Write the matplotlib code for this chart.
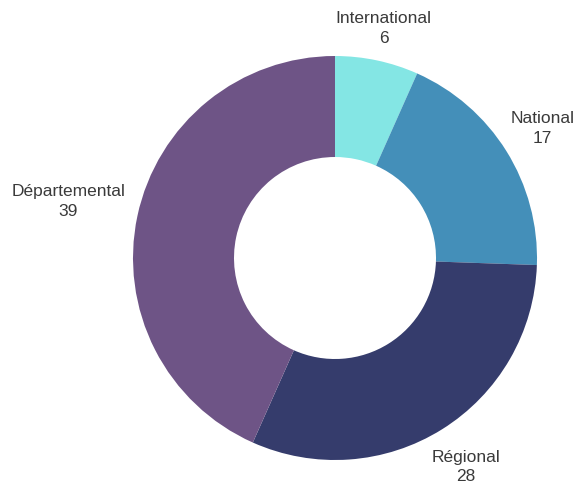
import numpy as np
import matplotlib.pyplot as plt

# données
categories = ["International", "National", "Régional", "Départemental"]
values = [6, 17, 28, 39]

colors = ["#84E6E4", "#448FB9", "#353C6C", "#6E5486"]
label_dist = [1.16, 1.21, 1.22, 1.35]

plt.rcParams['font.family'] = ['Liberation Sans', 'DejaVu Sans']

fig = plt.figure(figsize=(5.8, 4.88), dpi=100)
# axe carré centré sur le donut (centre ~ (335, 258) px, rayon ~202 px)
ax = fig.add_axes([133 / 580, 28 / 488, 404 / 580, 404 / 488])

wedges, _ = ax.pie(values, colors=colors, startangle=90, counterclock=False,
                   radius=1.0, wedgeprops=dict(width=0.5, edgecolor='none'))

total = sum(values)
cum = 0
for name, v, d in zip(categories, values, label_dist):
    mid = 90 - (cum + v / 2) / total * 360
    cum += v
    x = d * np.cos(np.radians(mid))
    y = d * np.sin(np.radians(mid))
    ax.text(x, y, f"{name}\n{v}", ha='center', va='center',
            fontsize=12.5, color='#3a3a3a', linespacing=1.4)

ax.set_xlim(-1, 1)
ax.set_ylim(-1, 1)
ax.set_aspect('equal')
ax.axis('off')

fig.savefig("out.png", dpi=100)
